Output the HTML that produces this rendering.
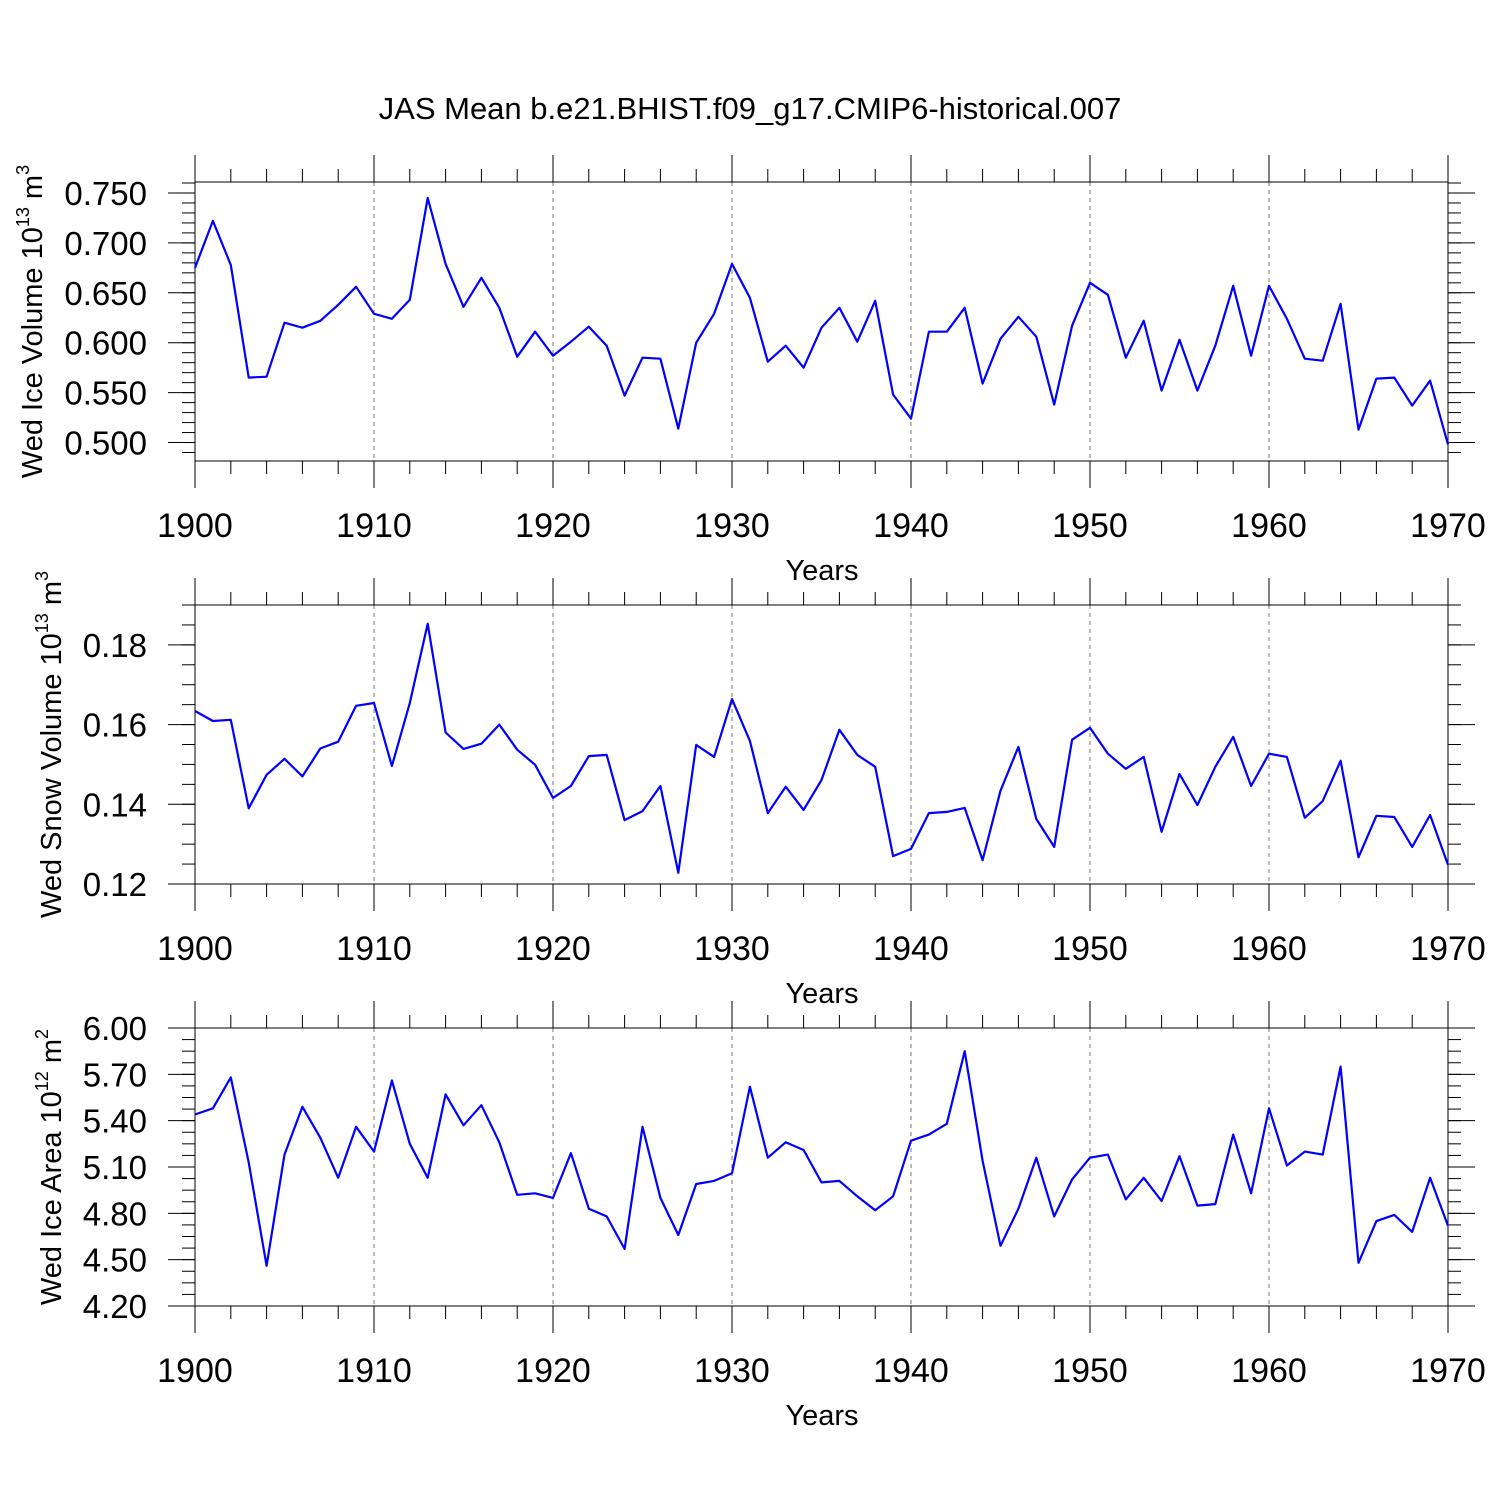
<!DOCTYPE html>
<html><head><meta charset="utf-8"><style>
html,body{margin:0;padding:0;background:#fff;}
svg{display:block;font-family:"Liberation Sans",Arial,sans-serif;}
</style></head><body>
<svg id="chart" width="1500" height="1500" viewBox="0 0 1500 1500" xmlns="http://www.w3.org/2000/svg">
<rect width="1500" height="1500" fill="#fff"/>
<text x="750" y="119" font-size="31" text-anchor="middle">JAS Mean b.e21.BHIST.f09_g17.CMIP6-historical.007</text>
</svg>
<script>
const years = [];
for (let y = 1900; y <= 1970; y++) years.push(y);
const iceVolume = [0.675,0.722,0.678,0.565,0.566,0.620,0.615,0.622,0.638,0.656,0.629,0.624,0.643,0.745,0.679,0.636,0.665,0.635,0.586,0.611,0.587,0.601,0.616,0.597,0.547,0.585,0.584,0.514,0.600,0.629,0.679,0.645,0.581,0.597,0.575,0.615,0.635,0.601,0.642,0.548,0.524,0.611,0.611,0.635,0.559,0.604,0.626,0.606,0.538,0.617,0.660,0.648,0.585,0.622,0.552,0.603,0.552,0.597,0.657,0.587,0.657,0.624,0.584,0.582,0.639,0.513,0.564,0.565,0.537,0.562,0.498];
const snowVolume = [0.1634,0.1609,0.1612,0.139,0.1474,0.1514,0.147,0.154,0.1557,0.1647,0.1654,0.1496,0.1654,0.1853,0.158,0.1539,0.1552,0.16,0.1537,0.1499,0.1416,0.1446,0.1521,0.1524,0.136,0.1383,0.1446,0.1228,0.1549,0.1519,0.1664,0.1559,0.1378,0.1444,0.1386,0.1461,0.1587,0.1524,0.1494,0.127,0.1288,0.1378,0.1381,0.1391,0.126,0.1434,0.1544,0.1363,0.1293,0.1562,0.1592,0.1527,0.1489,0.1519,0.1331,0.1476,0.1398,0.1494,0.1569,0.1446,0.1527,0.1519,0.1366,0.1408,0.1509,0.1267,0.1371,0.1368,0.1293,0.1373,0.1248];
const iceArea = [5.44,5.48,5.68,5.13,4.46,5.18,5.49,5.29,5.03,5.36,5.20,5.66,5.25,5.03,5.57,5.37,5.50,5.26,4.92,4.93,4.90,5.19,4.83,4.78,4.57,5.36,4.90,4.66,4.99,5.01,5.06,5.62,5.16,5.26,5.21,5.00,5.01,4.91,4.82,4.91,5.27,5.31,5.38,5.85,5.14,4.59,4.83,5.16,4.78,5.02,5.16,5.18,4.89,5.03,4.88,5.17,4.85,4.86,5.31,4.93,5.48,5.11,5.20,5.18,5.75,4.48,4.75,4.79,4.68,5.03,4.72];
const xTickLabels = [1900,1910,1920,1930,1940,1950,1960,1970];
const iceTicks = [0.500,0.550,0.600,0.650,0.700,0.750];
const snowTicks = [0.12,0.14,0.16,0.18];
const areaTicks = [4.20,4.50,4.80,5.10,5.40,5.70,6.00];

const svg = document.getElementById('chart');
const NS = 'http://www.w3.org/2000/svg';
function mk(tag, attrs, parent){const e=document.createElementNS(NS,tag);for(const k in attrs)e.setAttribute(k,attrs[k]);(parent||svg).appendChild(e);return e;}

const X0=195, X1=1448;
const xs = v => X0 + (v-1900)/70*(X1-X0);

const panels = [
 {name:'ice-volume', top:182, bot:461, ymin:0.4815, ymax:0.7610, ticks:iceTicks, dec:3, minor:0.01, data:iceVolume, t1:'Wed Ice Volume 10', sup:'13', t2:' m', sup2:'3', tx:42},
 {name:'snow-volume', top:605, bot:884, ymin:0.12, ymax:0.19, ticks:snowTicks, dec:2, minor:0.005, data:snowVolume, t1:'Wed Snow Volume 10', sup:'13', t2:' m', sup2:'3', tx:61},
 {name:'ice-area', top:1028, bot:1306, ymin:4.20, ymax:6.00, ticks:areaTicks, dec:2, minor:0.075, data:iceArea, t1:'Wed Ice Area 10', sup:'12', t2:' m', sup2:'2', tx:61}
];

panels.forEach(p=>{
  const g = mk('g',{});
  
  
  const ys = v => p.bot - (v-p.ymin)/(p.ymax-p.ymin)*(p.bot-p.top);
  for (let d=1910; d<=1960; d+=10){
    const l = mk('line',{x1:xs(d),x2:xs(d),y1:p.top,y2:p.bot,stroke:'#777','stroke-width':1,'stroke-dasharray':'4,4'},g);
    
    
  }
  for (let yr=1900; yr<=1970; yr+=2){
    const major = yr%10===0; const len = major?27:13;
    mk('line',{x1:xs(yr),x2:xs(yr),y1:p.top-len,y2:p.top,stroke:'#000','stroke-width':1},g);
    mk('line',{x1:xs(yr),x2:xs(yr),y1:p.bot,y2:p.bot+len,stroke:'#000','stroke-width':1},g);
  }
  const start = Math.ceil(p.ymin/p.minor-1e-6);
  for (let k=start; k*p.minor<=p.ymax+1e-9; k++){
    const v=k*p.minor; const y=ys(v);
    mk('line',{x1:X0-13,x2:X0,y1:y,y2:y,stroke:'#000','stroke-width':1},g);
    mk('line',{x1:X1,x2:X1+13,y1:y,y2:y,stroke:'#000','stroke-width':1},g);
  }
  p.ticks.forEach(v=>{
    const y=ys(v);
    mk('line',{x1:X0-27,x2:X0,y1:y,y2:y,stroke:'#000','stroke-width':1},g);
    mk('line',{x1:X1,x2:X1+27,y1:y,y2:y,stroke:'#000','stroke-width':1},g);
    const t=mk('text',{x:X0-48,y:y+12,'font-size':33,'text-anchor':'end'},g);
    t.textContent=v.toFixed(p.dec);
    
    
  });
  const fr = mk('rect',{x:X0,y:p.top,width:X1-X0,height:p.bot-p.top,fill:'none',stroke:'#000','stroke-width':1},g);
  
  
  xTickLabels.forEach(v=>{
    const t=mk('text',{x:xs(v),y:p.bot+76,'font-size':34,'text-anchor':'middle'},g);
    t.textContent=v;
    
    
  });
  const xt=mk('text',{x:822,y:p.bot+119,'font-size':29,'text-anchor':'middle'},g);
  xt.textContent='Years';
  
  
  const cy=(p.top+p.bot)/2;
  const yt=mk('text',{x:0,y:0,'font-size':29,'text-anchor':'middle',transform:`translate(${p.tx},${cy}) rotate(-90)`},g);
  
  
  const a=document.createElementNS(NS,'tspan'); a.textContent=p.t1; yt.appendChild(a);
  const b=document.createElementNS(NS,'tspan'); b.setAttribute('font-size','18'); b.setAttribute('dy','-13'); b.textContent=p.sup; yt.appendChild(b);
  const c=document.createElementNS(NS,'tspan'); c.setAttribute('dy','13'); c.textContent=p.t2; yt.appendChild(c);
  const d=document.createElementNS(NS,'tspan'); d.setAttribute('font-size','18'); d.setAttribute('dy','-13'); d.textContent=p.sup2; yt.appendChild(d);
  const pts = p.data.map((v,i)=>xs(years[i]).toFixed(1)+','+ys(v).toFixed(1)).join(' ');
  const line = mk('polyline',{points:pts,fill:'none',stroke:'#0000ff','stroke-width':2.2,'stroke-linejoin':'round'},g);
  
  
});
</script>
</body></html>
